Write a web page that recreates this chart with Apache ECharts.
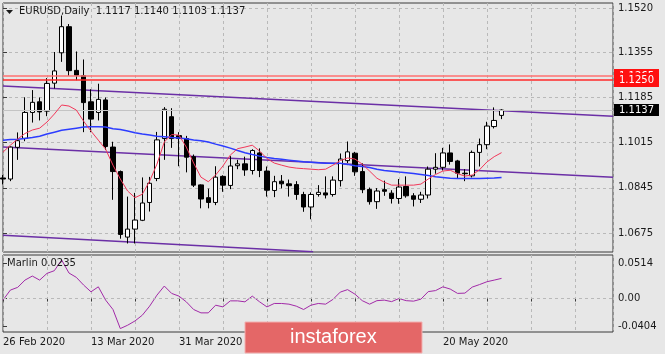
<!DOCTYPE html>
<html>
<head>
<meta charset="utf-8">
<style>
  html, body { margin: 0; padding: 0; background: #e7e7e7; }
  #chart { width: 665px; height: 354px; }
</style>
</head>
<body>
<div id="chart"></div>
<script src="https://cdn.jsdelivr.net/npm/echarts@6/dist/echarts.min.js"></script>
<script>
// EURUSD daily, 26 Feb 2020 .. 1 Jun 2020 (bar index 0..68)
const opens = [1.0882, 1.0878, 1.0997, 1.1031, 1.1128, 1.1168, 1.1133, 1.1238, 1.1352, 1.1450,
  1.1286, 1.1266, 1.1168, 1.1128, 1.1175, 1.0998, 1.0906, 1.0660, 1.0690, 1.0723,
  1.0790, 1.0880, 1.1030, 1.1112, 1.1041, 1.1030, 1.0962, 1.0856, 1.0808, 1.0790,
  1.0888, 1.0854, 1.0928, 1.0935, 1.0910, 1.0976, 1.0908, 1.0835, 1.0870, 1.0860,
  1.0857, 1.0820, 1.0773, 1.0820, 1.0826, 1.0820, 1.0872, 1.0947, 1.0975, 1.0906,
  1.0839, 1.0793, 1.0838, 1.0825, 1.0805, 1.0850, 1.0815, 1.0802, 1.0818, 1.0915,
  1.0922, 1.0976, 1.0946, 1.0900, 1.0890, 1.0978, 1.1007, 1.1075, 1.1117]
const highs = [1.0893, 1.1000, 1.1053, 1.1185, 1.1212, 1.1184, 1.1257, 1.1355, 1.1492, 1.1460,
  1.1357, 1.1327, 1.1215, 1.1236, 1.1184, 1.1018, 1.0910, 1.0812, 1.0826, 1.0884,
  1.0886, 1.1055, 1.1148, 1.1144, 1.1054, 1.1040, 1.0970, 1.0858, 1.0842, 1.0926,
  1.0892, 1.0964, 1.0950, 1.0962, 1.0990, 1.0993, 1.0925, 1.0890, 1.0893, 1.0876,
  1.0870, 1.0830, 1.0828, 1.0855, 1.0888, 1.0888, 1.0974, 1.1019, 1.0980, 1.0937,
  1.0846, 1.0844, 1.0872, 1.0836, 1.0878, 1.0888, 1.0825, 1.0830, 1.0925, 1.0975,
  1.0995, 1.1008, 1.0950, 1.0915, 1.0985, 1.1030, 1.1093, 1.1147, 1.1140]
const lows = [1.0858, 1.0870, 1.0950, 1.1020, 1.1090, 1.1098, 1.1114, 1.1218, 1.1318, 1.1265,
  1.1249, 1.1054, 1.1054, 1.1098, 1.0987, 1.0800, 1.0654, 1.0636, 1.0636, 1.0720,
  1.0756, 1.0870, 1.0950, 1.0995, 1.0926, 1.0903, 1.0848, 1.0768, 1.0768, 1.0780,
  1.0830, 1.0840, 1.0915, 1.0890, 1.0895, 1.0885, 1.0812, 1.0810, 1.0843, 1.0812,
  1.0800, 1.0755, 1.0727, 1.0812, 1.0805, 1.0812, 1.0850, 1.0938, 1.0890, 1.0825,
  1.0782, 1.0766, 1.0815, 1.0786, 1.0785, 1.0808, 1.0775, 1.0788, 1.0805, 1.0898,
  1.0910, 1.0932, 1.0880, 1.0870, 1.0884, 1.0925, 1.0990, 1.1068, 1.1103]
const closes = [1.0878, 1.0998, 1.1022, 1.1128, 1.1166, 1.1130, 1.1237, 1.1284, 1.1450, 1.1285,
  1.1268, 1.1165, 1.1103, 1.1177, 1.1000, 1.0906, 1.0670, 1.0690, 1.0724, 1.0788,
  1.0862, 1.1025, 1.1140, 1.1030, 1.1030, 1.0960, 1.0855, 1.0803, 1.0790, 1.0885,
  1.0855, 1.0927, 1.0935, 1.0912, 1.0985, 1.0910, 1.0836, 1.0868, 1.0860, 1.0853,
  1.0820, 1.0773, 1.0820, 1.0828, 1.0818, 1.0874, 1.0953, 1.0980, 1.0905, 1.0838,
  1.0793, 1.0833, 1.0832, 1.0805, 1.0848, 1.0815, 1.0802, 1.0818, 1.0915, 1.0922,
  1.0976, 1.0944, 1.0900, 1.0898, 1.0978, 1.1007, 1.1077, 1.1098, 1.1137]

// moving averages as drawn on the chart
const maRed = [1.0979, 1.1005, 1.1028, 1.1049, 1.1062, 1.1069, 1.1092, 1.1122, 1.1156, 1.1152,
  1.1137, 1.1095, 1.1058, 1.1024, 1.0990, 1.0930, 1.0878, 1.0833, 1.0808, 1.0821,
  1.0870, 1.0934, 1.1017, 1.1045, 1.1043, 1.0998, 1.0938, 1.0885, 1.0868, 1.0893,
  1.0927, 1.0968, 1.0992, 1.0998, 1.1005, 1.0983, 1.0955, 1.0938, 1.0930, 1.0923,
  1.0919, 1.0917, 1.0915, 1.0913, 1.0915, 1.0930, 1.0947, 1.0957, 1.0953, 1.0934,
  1.0908, 1.0881, 1.0866, 1.0855, 1.0855, 1.0855, 1.0855, 1.0859, 1.0878, 1.0895,
  1.0908, 1.0911, 1.0898, 1.0889, 1.0893, 1.0913, 1.0942, 1.0962, 1.0977]
const maBlue = [1.1024, 1.1026, 1.1027, 1.1030, 1.1034, 1.1039, 1.1047, 1.1054, 1.1061, 1.1065,
  1.1069, 1.1073, 1.1074, 1.1074, 1.1073, 1.1067, 1.1064, 1.1058, 1.1052, 1.1047,
  1.1043, 1.1039, 1.1037, 1.1034, 1.1032, 1.1029, 1.1025, 1.1022, 1.1017, 1.1009,
  1.1002, 1.0994, 1.0985, 1.0977, 1.0970, 1.0964, 1.0959, 1.0955, 1.0952, 1.0949,
  1.0946, 1.0943, 1.0941, 1.0939, 1.0937, 1.0937, 1.0937, 1.0933, 1.0928, 1.0925,
  1.0921, 1.0915, 1.0910, 1.0907, 1.0904, 1.0902, 1.0899, 1.0895, 1.0891, 1.0887,
  1.0884, 1.0881, 1.0880, 1.0880, 1.0880, 1.0880, 1.0881, 1.0882, 1.0884]

// Marlin oscillator
const marlin = [-0.0023, 0.0123, 0.0163, 0.0269, 0.0328, 0.0269, 0.0367, 0.0406, 0.0562, 0.0372,
  0.0309, 0.0196, 0.0098, 0.0171, -0.0023, -0.0160, -0.0438, -0.0389, -0.0327, -0.0243,
  -0.0111, 0.0050, 0.0182, 0.0075, 0.0035, -0.0048, -0.0160, -0.0209, -0.0209, -0.0097,
  -0.0122, -0.0034, -0.0034, -0.0048, 0.0035, -0.0048, -0.0122, -0.0072, -0.0072, -0.0082,
  -0.0111, -0.0160, -0.0097, -0.0072, -0.0082, -0.0013, 0.0094, 0.0130, 0.0064, -0.0031,
  -0.0082, -0.0031, -0.0023, -0.0045, 0.0000, -0.0031, -0.0038, -0.0009, 0.0101, 0.0116,
  0.0171, 0.0138, 0.0075, 0.0079, 0.0167, 0.0204, 0.0245, 0.0269, 0.0294]

// one date label every 12 bars
const dateLabels = ['26 Feb 2020', '13 Mar 2020', '31 Mar 2020', '16 Apr 2020', '4 May 2020', '20 May 2020']
const priceTicks = [1.0675, 1.0845, 1.1015, 1.1185, 1.1355, 1.1520]
const marlinTicks = [-0.0404, 0, 0.0514]
const levelLines = [1.1265, 1.1250]
const bidPrice = 1.1137

// channel lines, [bar, price]
const channelTop = [[0, 1.1227], [83.2, 1.1114]]
const channelMid = [[0, 1.0998], [83.2, 1.0885]]
const channelLow = [[0, 1.0667], [42.3, 1.0605]]

const font = 'DejaVu Sans'
const gridLine = { color: '#b9b9b9', type: [3, 3], width: 1 }

const candles = opens.map((o, i) => [i, o, closes[i], lows[i], highs[i]])

const chart = echarts.init(document.getElementById('chart'))
chart.setOption({
  animation: false,
  backgroundColor: '#e7e7e7',
  title: [
    {
      text: 'EURUSD,Daily  1.1117 1.1140 1.1103 1.1137',
      left: 19,
      top: 6,
      padding: 0,
      textStyle: { fontFamily: font, fontSize: 10, fontWeight: 'normal', color: '#1a1a1a' }
    },
    {
      text: 'Marlin 0.0235',
      left: 7,
      top: 258,
      padding: 0,
      textStyle: { fontFamily: font, fontSize: 10, fontWeight: 'normal', color: '#1a1a1a' }
    }
  ],
  grid: [
    { left: 3, right: 52, top: 3, height: 249, show: true, borderColor: '#3a3a3a', borderWidth: 1 },
    { left: 3, right: 52, top: 255, height: 77, show: true, borderColor: '#3a3a3a', borderWidth: 1 }
  ],
  xAxis: [
    {
      gridIndex: 0,
      type: 'value',
      min: 0,
      max: 83.2,
      interval: 6,
      axisLine: { show: false },
      axisTick: { show: false },
      axisLabel: { show: false },
      splitLine: { show: true, lineStyle: gridLine }
    },
    {
      gridIndex: 1,
      type: 'value',
      min: 0,
      max: 83.2,
      interval: 6,
      axisLine: { show: false },
      axisTick: { show: true, length: 3, lineStyle: { color: '#3a3a3a' } },
      axisLabel: {
        showMinLabel: true,
        showMaxLabel: false,
        align: 'left',
        margin: 5,
        fontFamily: font,
        fontSize: 10,
        color: '#1a1a1a',
        formatter: (v) => (v % 12 === 0 && dateLabels[v / 12]) ? dateLabels[v / 12] : ''
      },
      splitLine: { show: true, lineStyle: gridLine }
    }
  ],
  yAxis: [
    {
      gridIndex: 0,
      type: 'value',
      position: 'right',
      min: 1.0604,
      max: 1.1539,
      axisLine: { show: false },
      axisTick: { show: true, length: 4, customValues: priceTicks, lineStyle: { color: '#3a3a3a' } },
      axisLabel: {
        customValues: priceTicks,
        margin: 5,
        fontFamily: font,
        fontSize: 10,
        color: '#1a1a1a',
        formatter: (v) => v.toFixed(4)
      },
      splitLine: { show: true, lineStyle: gridLine }
    },
    {
      gridIndex: 1,
      type: 'value',
      position: 'right',
      min: -0.0488,
      max: 0.0635,
      axisLine: { show: false },
      axisTick: { show: true, length: 4, customValues: marlinTicks, lineStyle: { color: '#3a3a3a' } },
      axisLabel: {
        customValues: marlinTicks,
        margin: 5,
        fontFamily: font,
        fontSize: 10,
        color: '#1a1a1a',
        formatter: (v) => v === 0 ? '0.00' : v.toFixed(4)
      },
      splitLine: { show: false }
    }
  ],
  series: [
    {
      name: 'channel top',
      type: 'line',
      data: channelTop,
      symbol: 'none',
      z: 2,
      lineStyle: { color: '#6b2fa6', width: 1.5 },
      markLine: {
        silent: true,
        symbol: 'none',
        precision: 4,
        data: levelLines.map((v, i) => ({
          yAxis: v,
          lineStyle: { color: i === 0 ? '#ff7070' : '#ff2a2a', width: 1.5, type: 'solid' },
          label: {
            show: true,
            position: 'end',
            distance: 1,
            formatter: v.toFixed(4),
            backgroundColor: '#ff1010',
            color: '#ffffff',
            padding: [2, 5, 2, 5],
            fontFamily: font,
            fontSize: 10
          }
        }))
      }
    },
    {
      name: 'channel mid',
      type: 'line',
      data: channelMid,
      symbol: 'none',
      z: 2,
      lineStyle: { color: '#6b2fa6', width: 1.5 }
    },
    {
      name: 'channel low',
      type: 'line',
      data: channelLow,
      symbol: 'none',
      z: 2,
      lineStyle: { color: '#6b2fa6', width: 1.5 }
    },
    {
      name: 'EURUSD',
      type: 'candlestick',
      xAxisIndex: 0,
      yAxisIndex: 0,
      data: candles,
      encode: { x: 0, y: [1, 2, 3, 4] },
      barWidth: 5,
      z: 3,
      itemStyle: {
        color: '#ffffff',
        color0: '#000000',
        borderColor: '#000000',
        borderColor0: '#000000',
        borderWidth: 1
      },
      markLine: {
        silent: true,
        symbol: 'none',
        precision: 4,
        data: [{
          yAxis: bidPrice,
          lineStyle: { color: '#c4c4c4', width: 1, type: 'solid' },
          label: {
            show: true,
            position: 'end',
            distance: 1,
            formatter: bidPrice.toFixed(4),
            backgroundColor: '#000000',
            color: '#ffffff',
            padding: [1, 5, 1, 5],
            fontFamily: font,
            fontSize: 10
          }
        }]
      }
    },
    {
      name: 'MA blue',
      type: 'line',
      data: maBlue.map((v, i) => [i, v]),
      symbol: 'none',
      z: 4,
      lineStyle: { color: '#2c3cff', width: 1.5 }
    },
    {
      name: 'MA red',
      type: 'line',
      data: maRed.map((v, i) => [i, v]),
      symbol: 'none',
      z: 5,
      lineStyle: { color: '#f2385a', width: 1 }
    },
    {
      name: 'Marlin',
      type: 'line',
      xAxisIndex: 1,
      yAxisIndex: 1,
      data: marlin.map((v, i) => [i, v]),
      symbol: 'none',
      lineStyle: { color: '#a22aa8', width: 1 },
      markLine: {
        silent: true,
        symbol: 'none',
        precision: 4,
        label: { show: false },
        lineStyle: gridLine,
        data: [{ yAxis: 0 }]
      }
    }
  ],
  graphic: [
    {
      type: 'polygon',
      z: 100,
      shape: { points: [[6, 10], [13, 10], [9.5, 14]] },
      style: { fill: '#1a1a1a' }
    },
    {
      type: 'rect',
      z: 100,
      shape: { x: 245, y: 322, width: 177, height: 31 },
      style: { fill: '#e46767', stroke: '#f3b0b0', lineWidth: 1 }
    },
    {
      type: 'text',
      z: 101,
      x: 290,
      y: 337,
      style: {
        text: 'instaforex',
        fill: '#ffffff',
        font: '20px "Liberation Sans"',
        verticalAlign: 'middle'
      }
    }
  ]
})
</script>
</body>
</html>
